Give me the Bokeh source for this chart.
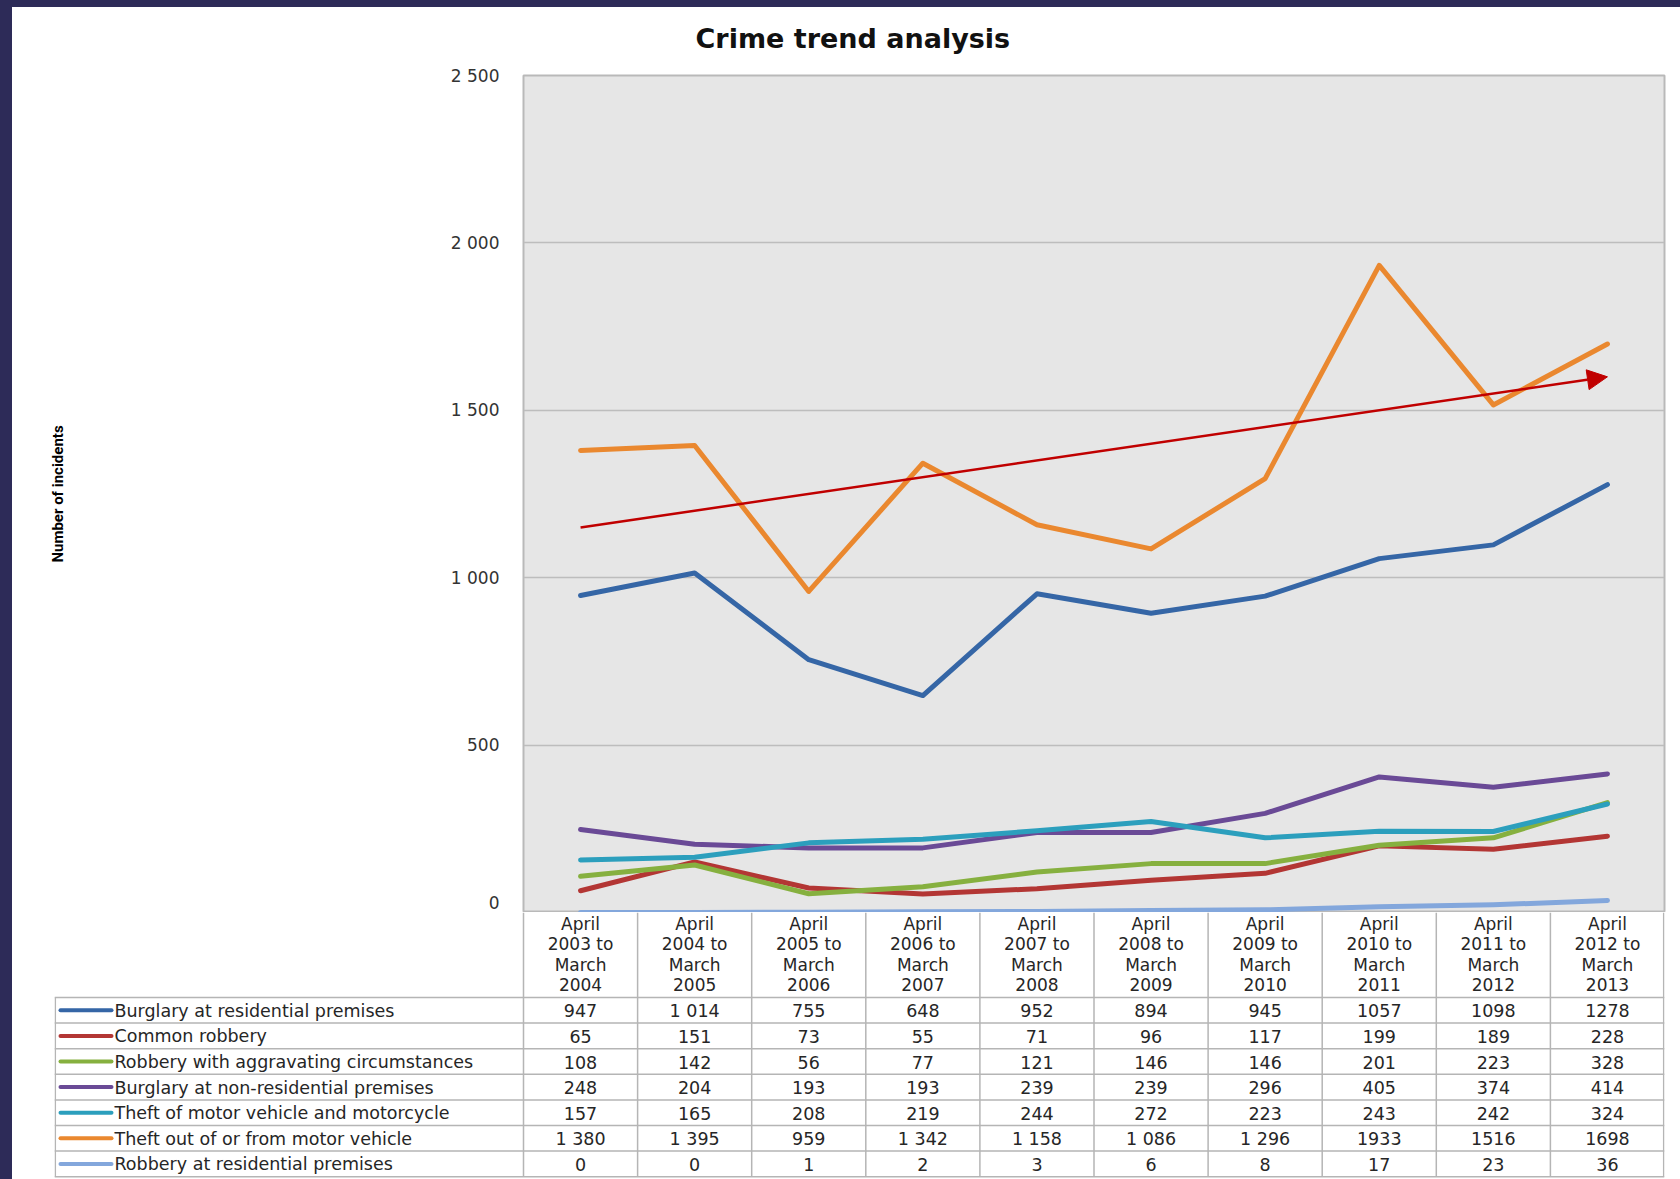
from bokeh.plotting import figure
from bokeh.models import (Range1d, Arrow, NormalHead, CustomJSTickFormatter,
                          FixedTicker, Title)
from bokeh.embed import file_html
from bokeh.resources import INLINE
from bokeh.core.properties import value

# ---------------- data ----------------
periods = ["April\n2003 to\nMarch\n2004", "April\n2004 to\nMarch\n2005",
           "April\n2005 to\nMarch\n2006", "April\n2006 to\nMarch\n2007",
           "April\n2007 to\nMarch\n2008", "April\n2008 to\nMarch\n2009",
           "April\n2009 to\nMarch\n2010", "April\n2010 to\nMarch\n2011",
           "April\n2011 to\nMarch\n2012", "April\n2012 to\nMarch\n2013"]

series_names = ["Burglary at residential premises",
                "Common robbery",
                "Robbery with aggravating circumstances",
                "Burglary at non-residential premises",
                "Theft of motor vehicle and motorcycle",
                "Theft out of or from motor vehicle",
                "Robbery at residential premises"]

burglary_residential = [947, 1014, 755, 648, 952, 894, 945, 1057, 1098, 1278]
common_robbery = [65, 151, 73, 55, 71, 96, 117, 199, 189, 228]
robbery_aggravating = [108, 142, 56, 77, 121, 146, 146, 201, 223, 328]
burglary_non_residential = [248, 204, 193, 193, 239, 239, 296, 405, 374, 414]
theft_of_motor_vehicle = [157, 165, 208, 219, 244, 272, 223, 243, 242, 324]
theft_out_of_motor_vehicle = [1380, 1395, 959, 1342, 1158, 1086, 1296, 1933, 1516, 1698]
robbery_residential = [0, 0, 1, 2, 3, 6, 8, 17, 23, 36]

y_ticks = [0, 500, 1000, 1500, 2000, 2500]
trend_start, trend_end = 1150, 1600

series_values = [burglary_residential, common_robbery, robbery_aggravating,
                 burglary_non_residential, theft_of_motor_vehicle,
                 theft_out_of_motor_vehicle, robbery_residential]
series_colors = ["#3566a6", "#b33634", "#86b03f", "#6a4a96",
                 "#2c9fbd", "#ea882f", "#83a7dc"]

# ---------------- layout constants ----------------
W = 1680            # figure width
CH = 912            # chart figure height (page y 0 .. 912)
TH = 267            # table figure height (page y 912 .. 1179)
PL, PR, PT = 523, 16, 75
TL = 54             # table frame left
n = len(periods)
colw = (W - PL - PR) / n
xs = list(range(n))

FONT = "DejaVu Sans"
TXT = "#262626"
FRAME_DARK = "#2d2b58"

# ---------------- chart ----------------
p = figure(width=W, height=CH, x_range=Range1d(-0.5, n - 0.5),
           y_range=Range1d(0, 2500), output_backend="svg",
           toolbar_location=None, min_border_left=PL, min_border_right=PR,
           min_border_top=PT, min_border_bottom=0)
p.background_fill_color = "#e6e6e6"
p.border_fill_color = "white"
p.border_fill_alpha = 0
p.styles = {"box-shadow": f"inset 12px 7px 0 0 {FRAME_DARK}",
            "background-color": "white"}
p.outline_line_color = "#b9b9b9"
p.outline_line_width = 2
p.xaxis.visible = False
p.xgrid.visible = False
p.ygrid.ticker = FixedTicker(ticks=y_ticks)
p.ygrid.grid_line_color = "#bdbdbd"
p.ygrid.grid_line_width = 1.5

yax = p.yaxis[0]
yax.ticker = FixedTicker(ticks=y_ticks)
yax.formatter = CustomJSTickFormatter(code="""
    if (tick >= 1000) { return Math.floor(tick/1000) + ' ' + String(tick % 1000).padStart(3, '0'); }
    return String(tick);
""")
yax.axis_line_color = None
yax.major_tick_line_color = None
yax.minor_tick_line_color = None
yax.major_label_standoff = 18
yax.major_label_text_font = FONT
yax.major_label_text_font_size = "17px"
yax.major_label_text_color = "#333333"
yax.axis_label = "Number of incidents"
yax.axis_label_text_font = "Roboto"
yax.axis_label_text_font_style = "bold"
yax.axis_label_text_font_size = "15px"
yax.axis_label_text_color = "#000000"
yax.axis_label_standoff = 381

p.title = Title(text="Crime trend analysis", align="left", offset=172,
                vertical_align="top", standoff=40, text_font=FONT,
                text_font_style="bold", text_font_size="27px",
                text_color="#111111")

for vals, col in zip(series_values, series_colors):
    p.line(xs, vals, line_color=col, line_width=5, line_join="round",
           line_cap="round")

p.add_layout(Arrow(end=NormalHead(size=20, fill_color="#c00000",
                                  line_color="#c00000"),
                   x_start=0, y_start=trend_start, x_end=n - 1, y_end=trend_end,
                   line_color="#c00000", line_width=2.5))

# ---------------- table ----------------
tx0 = -0.5 - (PL - TL) / colw
tx1 = n - 0.5
t = figure(width=W, height=TH, x_range=Range1d(tx0, tx1),
           y_range=Range1d(TH, 0), output_backend="svg",
           toolbar_location=None, min_border_left=TL, min_border_right=PR,
           min_border_top=0, min_border_bottom=0)
t.axis.visible = False
t.grid.visible = False
t.outline_line_color = None
t.background_fill_color = "white"
t.border_fill_alpha = 0
t.styles = {"box-shadow": f"inset 12px 0 0 0 {FRAME_DARK}",
            "background-color": "white"}

H = 85
R = 25.6
GRID = "#b5b5b5"

hy = [H + i * R for i in range(len(series_names) + 1)]
t.segment(x0=[tx0] * len(hy), y0=hy, x1=[tx1] * len(hy), y1=hy,
          line_color=GRID, line_width=1.5)
vx = [k - 0.5 for k in range(n + 1)]
vx[-1] = tx1 - 0.8 / colw
t.segment(x0=vx, y0=[0] * len(vx), x1=vx, y1=[hy[-1]] * len(vx),
          line_color=GRID, line_width=1.5)
t.segment(x0=[tx0 + 0.8 / colw], y0=[H], x1=[tx0 + 0.8 / colw], y1=[hy[-1]],
          line_color=GRID, line_width=1.5)

t.text(x=xs, y=[H / 2 - 0.5] * n, text=periods, text_align="center",
       text_baseline="middle", text_font=value(FONT), text_font_size="17px",
       text_line_height=1.01, text_color=TXT)


def fmt(v, j):
    s = str(v)
    if v >= 1000 and j < 7:
        s = s[:-3] + " " + s[-3:]
    return s


for i, (name, vals, col) in enumerate(zip(series_names, series_values, series_colors)):
    yc = H + (i + 0.5) * R
    t.segment(x0=[tx0 + 6 / colw], y0=[yc], x1=[tx0 + 57 / colw], y1=[yc],
              line_color=col, line_width=4, line_cap="round")
    t.text(x=[tx0 + 60 / colw], y=[yc + 0.5], text=[name], text_align="left",
           text_baseline="middle", text_font=value(FONT),
           text_font_size="17.5px", text_color=TXT)
    t.text(x=xs, y=[yc + 0.5] * n, text=[fmt(v, j) for j, v in enumerate(vals)],
           text_align="center", text_baseline="middle", text_font=value(FONT),
           text_font_size="17.5px", text_color=TXT)

open("out.html", "w").write(file_html((p, t), INLINE))
